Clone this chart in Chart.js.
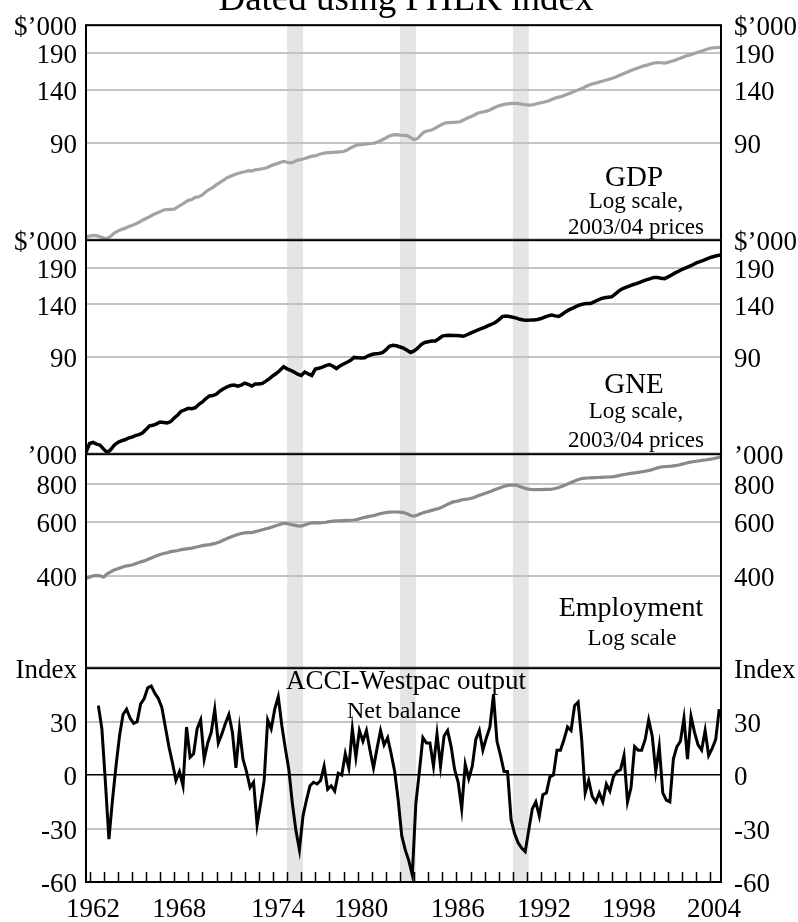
<!DOCTYPE html>
<html>
<head>
<meta charset="utf-8">
<script src="https://cdn.jsdelivr.net/npm/chart.js@4.4.1/dist/chart.umd.min.js"></script>
<style>
  body { margin: 0; background: #fff; }
  #wrap { position: relative; width: 798px; height: 922px; overflow: hidden; background: #fff;
          font-family: "Liberation Serif", "Times New Roman", serif; color: #000; }
  canvas { position: absolute; left: 0; }
  .note { position: absolute; white-space: nowrap; line-height: 1; transform: translateX(-50%); z-index: 5; }
</style>
</head>
<body>
<div id="wrap">
  <canvas id="gdpChart"></canvas>
  <canvas id="gneChart"></canvas>
  <canvas id="empChart"></canvas>
  <canvas id="acciChart"></canvas>

  <div class="note" style="left:406px; top:-21px; font-size:37px;">Dated using PHLK index</div>

  <div class="note" style="left:634px; top:162px; font-size:29px;">GDP</div>
  <div class="note" style="left:636px; top:189px; font-size:23px;">Log scale,</div>
  <div class="note" style="left:636px; top:215px; font-size:23px;">2003/04 prices</div>

  <div class="note" style="left:634px; top:369px; font-size:29px;">GNE</div>
  <div class="note" style="left:636px; top:399px; font-size:23px;">Log scale,</div>
  <div class="note" style="left:636px; top:428px; font-size:23px;">2003/04 prices</div>

  <div class="note" style="left:631px; top:593px; font-size:28px;">Employment</div>
  <div class="note" style="left:632px; top:626px; font-size:23px;">Log scale</div>

  <div class="note" style="left:406px; top:667px; font-size:27px;">ACCI-Westpac output</div>
  <div class="note" style="left:404px; top:698px; font-size:24px;">Net balance</div>
</div>

<script>
// quarterly, first point Sep qtr 1959
const FIRST_QTR = 1959.75;
const ACCI_FIRST_QTR = 1960.625;
const X_MIN = 1959.75;
const X_MAX = 2004.75;

const gdp = [
  40.9,
  41.3, 41.5, 41.4, 41.0,   40.6, 40.5, 41.2, 42.3,   43.0, 43.6, 44.0, 44.6,
  45.1, 45.6, 46.3, 47.1,   47.8, 48.5, 49.3, 49.9,   50.6, 51.3, 51.5, 51.6,
  51.7, 52.6, 53.6, 54.6,   55.6, 56.0, 57.0, 57.3,   58.2, 59.8, 61.0, 62.0,
  63.4, 64.6, 65.8, 67.2,   68.0, 68.8, 69.6, 70.2,   70.6, 71.2, 71.0, 71.8,
  72.0, 72.4, 72.8, 73.8,   74.8, 75.4, 76.2, 77.0,   76.4, 76.0, 76.8, 77.8,
  78.2, 78.8, 79.6, 80.4,   80.6, 81.5, 82.2, 82.6,   82.8, 83.0, 83.2, 83.4,
  83.6, 84.6, 86.2, 87.4,   88.4, 88.6, 88.9, 89.2,   89.4, 89.8, 90.8, 92.2,
  93.6, 95.2, 96.0, 96.2,   95.8, 95.6, 95.4, 94.0,   92.2, 93.2, 96.2, 98.6,
  99.4, 100.0, 101.6, 103.4, 105.0, 106.2, 106.4, 106.6, 106.8, 107.2, 108.8, 110.4,
  111.8, 113.2, 115.0, 116.0, 116.6, 117.6, 119.2, 121.0, 122.4, 123.4, 124.2, 124.6,
  124.9, 125.0, 124.4, 123.8, 123.4, 123.2, 123.8, 124.8, 125.6, 126.4, 127.4, 129.0,
  130.6, 131.6, 132.6, 134.2, 135.8, 137.4, 139.0, 140.6, 142.4, 144.4, 146.2, 147.6,
  148.6, 150.0, 151.2, 152.6, 153.8, 155.4, 157.4, 159.4, 161.4, 163.4, 165.4, 167.2,
  169.0, 170.6, 172.0, 173.6, 175.0, 175.6, 175.4, 174.8, 176.0, 177.6, 179.2, 181.2,
  183.4, 185.6, 187.0, 188.6, 190.6, 192.4, 194.4, 196.4, 198.0, 198.8, 199.2, 199.4
];

const gne = [
  40.5,
  43.6, 44.0, 43.4, 43.0,   41.6, 40.4, 41.4, 43.0,   44.0, 44.6, 45.0, 45.6,
  46.0, 46.6, 47.0, 47.6,   49.0, 50.6, 50.8, 51.4,   52.2, 52.0, 51.8, 52.4,
  54.0, 55.4, 57.2, 57.8,   58.6, 58.4, 58.9, 60.6,   61.8, 63.6, 65.0, 65.2,
  66.0, 67.8, 69.0, 70.2,   70.9, 71.2, 70.5, 71.2,   72.4, 71.6, 70.6, 71.8,
  71.8, 72.2, 73.6, 75.2,   77.0, 78.6, 80.6, 83.0,   81.6, 80.6, 79.4, 78.0,
  77.2, 79.4, 78.2, 77.2,   81.4, 82.0, 82.8, 83.8,   84.5, 83.4, 81.8, 83.6,
  85.0, 86.2, 87.6, 89.8,   89.6, 89.4, 89.5, 91.0,   92.0, 92.6, 92.8, 93.4,
  95.6, 98.6, 99.4, 99.0,   98.0, 97.0, 95.4, 93.6,   94.8, 97.0, 100.0, 101.8,
  102.4, 103.0, 103.0, 105.0, 107.4, 108.0, 108.2, 108.0, 108.0, 107.6, 107.2, 108.6,
  110.0, 111.4, 113.0, 114.2, 115.6, 117.2, 118.6, 120.4, 123.0, 126.4, 127.0, 126.6,
  125.8, 124.9, 123.6, 123.0, 122.7, 122.8, 123.0, 123.4, 124.4, 125.8, 127.2, 128.0,
  127.2, 126.6, 129.0, 131.8, 134.0, 135.8, 137.8, 139.6, 140.6, 141.0, 141.0, 143.0,
  145.0, 147.0, 148.0, 148.8, 149.3, 152.8, 156.6, 159.6, 161.6, 163.4, 165.2, 166.8,
  168.6, 170.6, 172.4, 173.8, 175.6, 175.4, 174.4, 173.9, 176.4, 179.2, 182.4, 185.0,
  188.0, 190.4, 192.6, 195.4, 198.4, 200.6, 202.6, 205.2, 207.6, 209.4, 211.0, 212.0
];

const employment = [
  393,
  396, 400, 401, 400,   396, 406, 412, 418,   422, 426, 430, 432,
  434, 438, 442, 446,   450, 455, 460, 465,   470, 473, 476, 480,
  482, 484, 487, 489,   491, 493, 496, 499,   502, 504, 506, 509,
  512, 517, 524, 530,   536, 541, 546, 550,   553, 554, 554, 558,
  562, 566, 570, 574,   579, 584, 589, 594,   593, 589, 586, 583,
  582, 587, 592, 596,   597, 596, 597, 599,   602, 604, 605, 605,
  606, 607, 608, 609,   612, 617, 621, 625,   628, 632, 637, 641,
  644, 646, 647, 647,   646, 644, 638, 630,   627, 633, 640, 646,
  650, 655, 660, 664,   672, 681, 690, 698,   701, 706, 711, 713,
  716, 722, 730, 737,   744, 751, 758, 766,   774, 781, 788, 792,
  793, 792, 784, 776,   770, 767, 766, 766,   766, 767, 767, 768,
  772, 778, 786, 794,   803, 813, 822, 830,   834, 836, 837, 838,
  839, 840, 841, 842,   843, 846, 851, 856,   860, 864, 867, 870,
  874, 878, 882, 887,   894, 902, 908, 911,   912, 914, 917, 922,
  928, 934, 940, 945,   948, 952, 956, 959,   963, 968, 974, 980
];

const acci = [
  39, 26, -4, -36, -14, 5, 22, 34, 37, 32, 29, 30, 40, 43, 49, 50, 46, 43, 38, 27,
  16, 7, -3, 2, -6, 27, 10, 12, 26, 31, 9, 18, 24, 37, 18, 23, 29, 34, 24, 4,
  26, 9, 2, -7, -4, -28, -16, -3, 31, 26, 37, 44, 28, 15, 3, -16, -31, -42, -23, -14,
  -6, -4, -5, -3, 5, -8, -6, -9, 1, 0, 12, 4, 26, 10, 25, 19, 25, 14, 4, 15,
  25, 17, 21, 12, 2, -14, -34, -42, -48, -56, -16, 2, 21, 18, 18, 5, 23, 5, 22, 25,
  16, 3, -4, -19, 6, -2, 5, 20, 25, 14, 21, 27, 45, 19, 11, 2, 2, -25, -33, -38,
  -41, -43, -31, -19, -15, -23, -11, -10, -1, 0, 14, 14, 20, 27, 25, 39, 41, 20, -10, -3,
  -12, -15, -10, -15, -5, -9, -1, 2, 3, 11, -15, -7, 16, 14, 14, 20, 31, 22, 2, 16,
  -10, -14, -15, 9, 16, 19, 32, 9, 33, 24, 17, 14, 25, 11, 15, 20, 37
];

// year labels and where the original puts them on the time axis
const yearLabels = ['1962', '1968', '1974', '1980', '1986', '1992', '1998', '2004'];
const yearLabelAt = [1960.25, 1966.35, 1973.35, 1979.25, 1986.1, 1992.2, 1998.23, 2004.26];

const recessionStart = [1974.0, 1982.0, 1990.0];
const recessionEnd = [1975.125, 1983.125, 1991.125];

const gdpTicks = [90, 140, 190, 240];
const gneTicks = [90, 140, 190, 240];
const empTicks = [400, 600, 800, 1000];
const acciTicks = [-60, -30, 0, 30, 60];

const FONT = '"Liberation Serif", "Times New Roman", serif';
const PLOT_LEFT = 86, PLOT_RIGHT = 721, PAGE_W = 798;
const PAD = 22;

const quarters = gdp.map((_, i) => FIRST_QTR + i * 0.25);
const acciQuarters = acci.map((_, i) => ACCI_FIRST_QTR + i * 0.25);

const bandsPlugin = {
  id: 'bands',
  beforeDraw(chart) {
    const { ctx, chartArea, scales } = chart;
    ctx.save();
    ctx.fillStyle = '#e5e5e5';
    recessionStart.forEach((s, i) => {
      const x1 = scales.x.getPixelForValue(s);
      const x2 = scales.x.getPixelForValue(recessionEnd[i]);
      ctx.fillRect(x1, chartArea.top, x2 - x1, chartArea.bottom - chartArea.top);
    });
    ctx.restore();
  }
};

const framePlugin = {
  id: 'frame',
  afterDraw(chart) {
    const { ctx, chartArea } = chart;
    ctx.save();
    ctx.strokeStyle = '#000';
    ctx.lineWidth = 2;
    ctx.strokeRect(chartArea.left, chartArea.top, chartArea.right - chartArea.left, chartArea.bottom - chartArea.top);
    ctx.restore();
  }
};

const yearTicksPlugin = {
  id: 'yearTicks',
  afterDatasetsDraw(chart) {
    const { ctx, chartArea, scales } = chart;
    ctx.save();
    ctx.strokeStyle = '#000';
    ctx.lineWidth = 1.5;
    ctx.beginPath();
    for (let yr = 1960; yr <= 2004; yr++) {
      const x = Math.round(scales.x.getPixelForValue(yr)) + 0.5;
      ctx.moveTo(x, chartArea.bottom);
      ctx.lineTo(x, chartArea.bottom - 10);
    }
    ctx.stroke();
    ctx.restore();
  }
};

function yScales(type, min, max, ticks, unit) {
  const tickOpts = {
    autoSkip: false,
    color: '#000',
    font: { family: FONT, size: 27 },
    labelOffset: 3,
    callback: v => (v === max ? unit : String(v))
  };
  const common = {
    type, min, max,
    border: { display: false },
    afterBuildTicks: s => { s.ticks = ticks.map(v => ({ value: v })); }
  };
  return {
    y: {
      ...common, position: 'left',
      afterFit: s => { s.width = PLOT_LEFT; },
      ticks: { ...tickOpts, padding: 9 },
      grid: {
        drawTicks: false,
        color: c => (c.tick && c.tick.value === 0 ? '#000' : '#c4c4c4'),
        lineWidth: c => (c.tick && c.tick.value === 0 ? 1.5 : 2)
      }
    },
    y2: {
      ...common, position: 'right',
      afterFit: s => { s.width = PAGE_W - PLOT_RIGHT; },
      ticks: { ...tickOpts, padding: 13 },
      grid: { display: false, drawTicks: false }
    }
  };
}

function makePanel(id, top, bottom, xs, values, color, width, yOpts, showYears) {
  const canvas = document.getElementById(id);
  const xAxisH = showYears ? 40 : 0;
  const padBottom = showYears ? 0 : PAD;
  const plugins = [bandsPlugin, framePlugin];
  if (showYears) plugins.push(yearTicksPlugin);

  function build(h) {
    canvas.width = PAGE_W;
    canvas.height = h;
    canvas.style.width = PAGE_W + 'px';
    canvas.style.height = h + 'px';
    return new Chart(canvas.getContext('2d'), {
      type: 'line',
      data: {
        datasets: [{
          data: values.map((v, i) => ({ x: xs[i], y: v })),
          borderColor: color,
          borderWidth: width,
          pointRadius: 0,
          tension: 0,
          yAxisID: 'y'
        }]
      },
      options: {
        responsive: false,
        maintainAspectRatio: false,
        animation: false,
        events: [],
        layout: { autoPadding: false, padding: { top: PAD, bottom: padBottom, left: 0, right: 0 } },
        plugins: { legend: { display: false }, tooltip: { enabled: false } },
        scales: {
          x: {
            type: 'linear', min: X_MIN, max: X_MAX,
            display: showYears,
            position: 'bottom',
            border: { display: false },
            grid: { display: false, drawTicks: false },
            afterFit: s => { s.height = xAxisH; },
            afterBuildTicks: s => { s.ticks = yearLabelAt.map(v => ({ value: v })); },
            ticks: {
              autoSkip: false, maxRotation: 0, color: '#000', padding: 12,
              font: { family: FONT, size: 27 },
              callback: (v, i) => yearLabels[i]
            }
          },
          ...yOpts
        }
      },
      plugins
    });
  }

  let h = bottom - top + PAD + padBottom + xAxisH;
  let chart = build(h);
  // the plot area must be exactly the panel height; rebuild once if it came out short
  const diff = (bottom - top) - (chart.chartArea.bottom - chart.chartArea.top);
  if (Math.abs(diff) > 0.5) {
    chart.destroy();
    h += Math.round(diff);
    chart = build(h);
  }
  canvas.style.top = (top - chart.chartArea.top) + 'px';
  return chart;
}

makePanel('gdpChart', 25, 240, quarters, gdp, '#a3a3a3', 3.2,
  yScales('logarithmic', 40, 240, gdpTicks, '$\u2019000'), false);
makePanel('gneChart', 240, 454, quarters, gne, '#000000', 3.5,
  yScales('logarithmic', 40, 240, gneTicks, '$\u2019000'), false);
makePanel('empChart', 454, 668, quarters, employment, '#8a8a8a', 3.2,
  yScales('logarithmic', 200, 1000, empTicks, '\u2019000'), false);
makePanel('acciChart', 668, 882, acciQuarters, acci, '#000000', 3,
  yScales('linear', -60, 60, acciTicks, 'Index'), true);
</script>
</body>
</html>
